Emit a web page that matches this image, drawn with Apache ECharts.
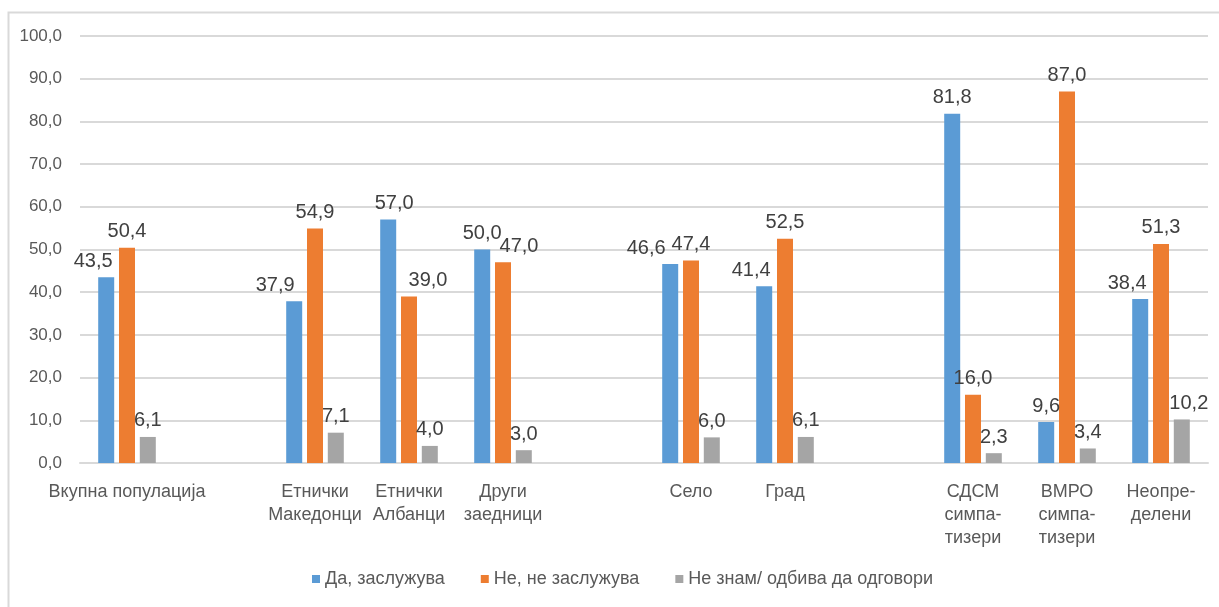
<!DOCTYPE html>
<html>
<head>
<meta charset="utf-8">
<script src="https://cdn.jsdelivr.net/npm/echarts@6/dist/echarts.min.js"></script>
<style>
  html, body { margin: 0; padding: 0; background: #fff; }
  #chart { width: 1219px; height: 607px; }
</style>
</head>
<body>
<div id="chart"></div>
<script>
// categories (empty strings are the gaps between groups)
const categories = [
  "Вкупна популација", "",
  "Етнички\nМакедонци", "Етнички\nАлбанци", "Други\nзаедници", "",
  "Село", "Град", "",
  "СДСМ\nсимпа-\nтизери", "ВМРО\nсимпа-\nтизери", "Неопре-\nделени"
];
const seriesNames = ["Да, заслужува", "Не, не заслужува", "Не знам/ одбива да одговори"];
const yesValues   = [43.5, null, 37.9, 57.0, 50.0, null, 46.6, 41.4, null, 81.8,  9.6, 38.4];
const noValues    = [50.4, null, 54.9, 39.0, 47.0, null, 47.4, 52.5, null, 16.0, 87.0, 51.3];
const dkValues    = [ 6.1, null,  7.1,  4.0,  3.0, null,  6.0,  6.1, null,  2.3,  3.4, 10.2];
const colors = ["#5B9BD5", "#ED7D31", "#A5A5A5"];

// horizontal nudges of the value labels (px), like the hand-placed ones in excel
const yesShift = [-13, 0, -19,  6, 0, 0, -24, -13, 0, 0, 0, -13];
const noShift  = [  0, 0,   0, 19, 16, 0,  0,   0, 0, 0, 0,   0];
const dkShift  = [  0, 0,   0,  0, 0, 0,   0,   0, 0, 0, 0,   7];

const font = "'Liberation Sans', Arial, sans-serif";
const fmt = v => Number(v).toFixed(1).replace(".", ",");

const chart = echarts.init(document.getElementById("chart"));

function makeSeries(name, values, shift, color) {
  return {
    name: name,
    type: "bar",
    data: values.map((v, i) => ({
      value: v,
      label: { offset: [shift[i], 0] }
    })),
    barWidth: 16,
    barGap: "30%",
    itemStyle: { color: color },
    label: {
      show: true,
      position: "top",
      distance: 6,
      color: "#404040",
      fontFamily: font,
      fontSize: 20,
      formatter: p => fmt(p.value)
    }
  };
}

chart.setOption({
  animation: false,
  graphic: [{
    type: "rect",
    shape: { x: 8.5, y: 12.5, width: 1400, height: 800 },
    style: { fill: "none", stroke: "#D9D9D9", lineWidth: 2 },
    silent: true
  }],
  grid: { left: 80, right: 11, top: 36, bottom: 144 },
  legend: {
    bottom: 14,
    left: 307,
    itemWidth: 8,
    itemHeight: 8,
    itemGap: 36,
    icon: "rect",
    textStyle: { color: "#595959", fontFamily: font, fontSize: 18 },
    data: seriesNames
  },
  xAxis: {
    type: "category",
    data: categories,
    axisTick: { show: false },
    axisLine: { lineStyle: { color: "#D9D9D9", width: 2 } },
    axisLabel: {
      interval: 0,
      margin: 18,
      color: "#595959",
      fontFamily: font,
      fontSize: 18,
      lineHeight: 23
    }
  },
  yAxis: {
    type: "value",
    min: 0,
    max: 100,
    interval: 10,
    axisLine: { show: false },
    axisTick: { show: false },
    splitLine: { lineStyle: { color: "#D9D9D9", width: 2 } },
    axisLabel: {
      margin: 18,
      color: "#595959",
      fontFamily: font,
      fontSize: 17,
      formatter: v => fmt(v)
    }
  },
  series: [
    makeSeries(seriesNames[0], yesValues, yesShift, colors[0]),
    makeSeries(seriesNames[1], noValues, noShift, colors[1]),
    makeSeries(seriesNames[2], dkValues, dkShift, colors[2])
  ]
});
</script>
</body>
</html>
